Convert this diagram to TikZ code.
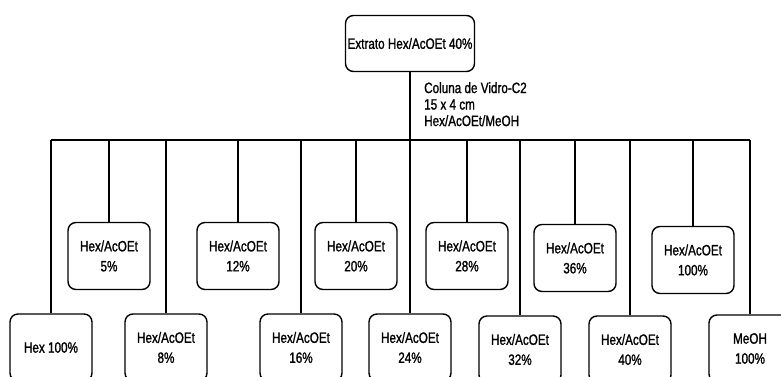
\documentclass[tikz,border=0pt]{standalone}
\usepackage{fontspec}
\setmainfont{Liberation Sans}[FakeStretch=0.78, FakeBold=1.2]
\usetikzlibrary{positioning}
\tikzset{
  frac/.style={draw=black, line width=1.4pt, rounded corners=8pt, minimum width=82pt, minimum height=67pt, inner sep=2pt, align=center, font=\fontsize{15}{20}\selectfont},
  crude/.style={frac, minimum width=129pt, minimum height=56pt},
  note/.style={inner sep=0pt, align=left, font=\fontsize{15}{16.5}\selectfont},
  link/.style={line width=1.4pt, draw=black},
}
\begin{document}
\begin{tikzpicture}[x=1pt, y=-1pt]
  \useasboundingbox (0,0) rectangle (781,377);
  % extract and column
  \node[crude] (ext) at (410,43.5) {Extrato Hex/AcOEt 40\%};
  \coordinate (bus) at (410,140);
  \node[note, anchor=north west] (col) at (424,82) {Coluna de Vidro-C2\\15 x 4 cm\\Hex/AcOEt/MeOH};
  % upper row of fractions
  \node[frac] (h5) at (109,256) {Hex/AcOEt\\5\%};
  \node[frac] (h12) at (238,256) {Hex/AcOEt\\12\%};
  \node[frac] (h20) at (356,256) {Hex/AcOEt\\20\%};
  \node[frac] (h28) at (467,256) {Hex/AcOEt\\28\%};
  \node[frac] (h36) at (575,258) {Hex/AcOEt\\36\%};
  \node[frac] (h100b) at (693,260) {Hex/AcOEt\\100\%};
  % lower row of fractions
  \node[frac] (h100) at (51,347.5) {Hex 100\%};
  \node[frac] (h8) at (166,347.5) {Hex/AcOEt\\8\%};
  \node[frac] (h16) at (301,347.5) {Hex/AcOEt\\16\%};
  \node[frac] (h24) at (410,347.5) {Hex/AcOEt\\24\%};
  \node[frac] (h32) at (520,349.5) {Hex/AcOEt\\32\%};
  \node[frac] (h40) at (630,349.5) {Hex/AcOEt\\40\%};
  \node[frac] (meoh) at (750,348.5) {MeOH\\100\%};
  % connectors
  \draw[link] (ext.south) -- (bus);
  \draw[link] (h100.north |- bus) -- (meoh.north |- bus);
  \draw[link] (h100.north) -- (h100.north |- bus); \draw[link] (h5.north) -- (h5.north |- bus);
  \draw[link] (h8.north) -- (h8.north |- bus); \draw[link] (h12.north) -- (h12.north |- bus);
  \draw[link] (h16.north) -- (h16.north |- bus); \draw[link] (h20.north) -- (h20.north |- bus);
  \draw[link] (h24.north) -- (h24.north |- bus); \draw[link] (h28.north) -- (h28.north |- bus);
  \draw[link] (h32.north) -- (h32.north |- bus); \draw[link] (h36.north) -- (h36.north |- bus);
  \draw[link] (h40.north) -- (h40.north |- bus); \draw[link] (h100b.north) -- (h100b.north |- bus);
  \draw[link] (meoh.north) -- (meoh.north |- bus);
\end{tikzpicture}
\end{document}
